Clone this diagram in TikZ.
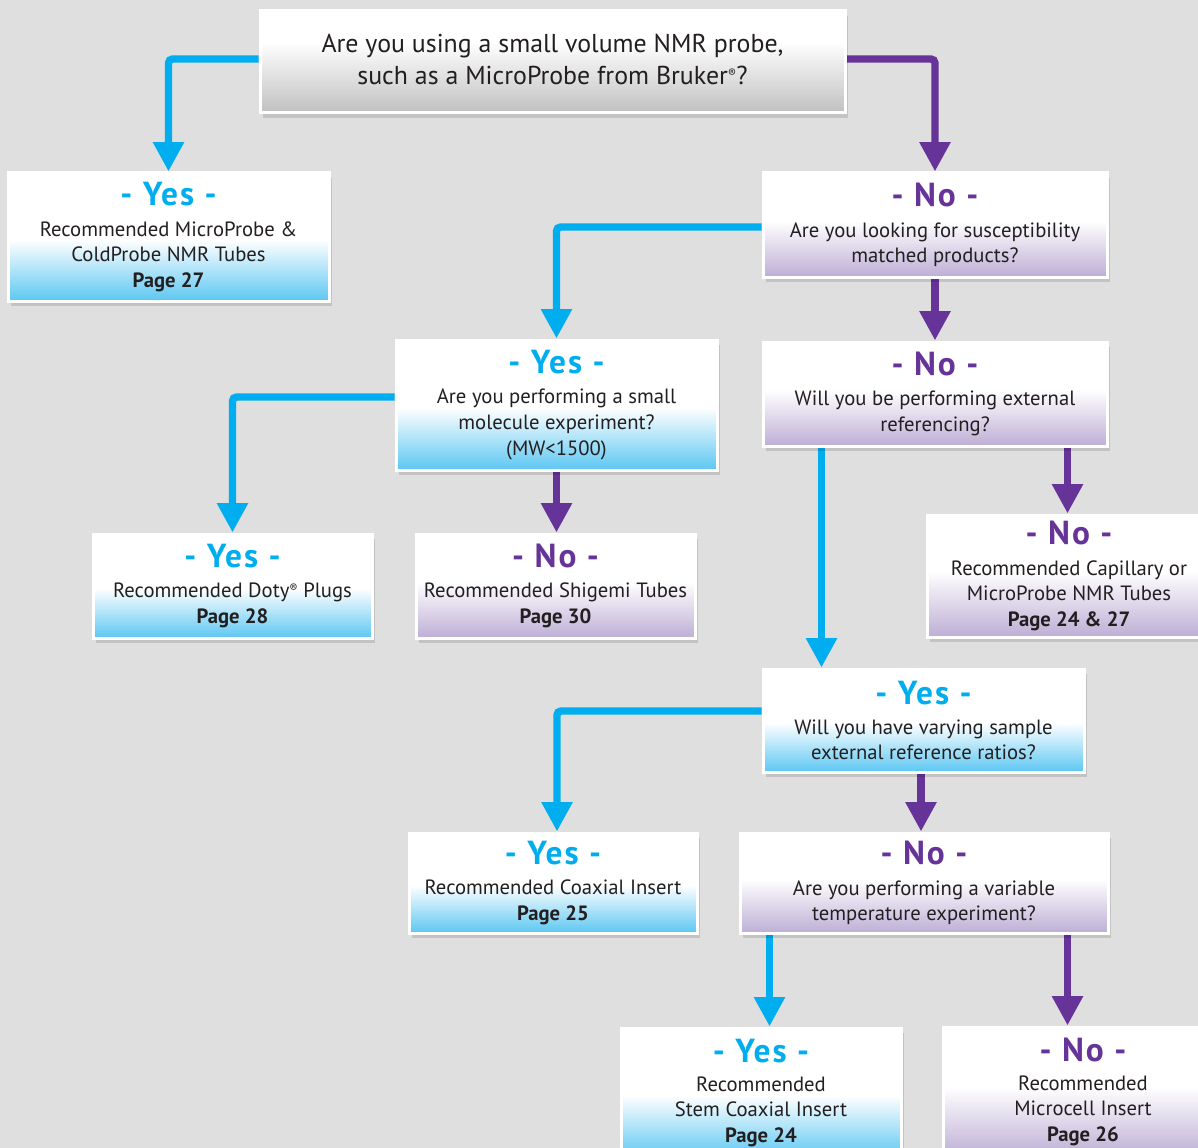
\documentclass[tikz,border=0pt]{standalone}
\usepackage{fontspec}
\setmainfont{PT Sans}
\usetikzlibrary{arrows.meta,shadows,calc}
\definecolor{bgc}{HTML}{DFDFDF}
\definecolor{yesc}{HTML}{00AEEF}
\definecolor{noc}{HTML}{663399}
\definecolor{yesbot}{HTML}{5CC7F2}
\definecolor{nobot}{HTML}{BDAED5}
\definecolor{topbot}{HTML}{C0C0C0}
\definecolor{txt}{HTML}{231F20}
\pgfdeclareverticalshading{yesshade}{100bp}{color(0bp)=(yesbot); color(25bp)=(yesbot); color(49bp)=(white); color(100bp)=(white)}
\pgfdeclareverticalshading{noshade}{100bp}{color(0bp)=(nobot); color(25bp)=(nobot); color(52bp)=(white); color(100bp)=(white)}
\pgfdeclareverticalshading{topshade}{100bp}{color(0bp)=(topbot); color(25bp)=(topbot); color(60bp)=(white); color(100bp)=(white)}
\pgfdeclarelayer{bg}
\pgfsetlayers{bg,main}
\newcommand{\YesHd}{{\fontsize{25}{26}\selectfont\bfseries\addfontfeature{LetterSpace=6}\color{yesc}- Yes -}}
\newcommand{\NoHd}{{\fontsize{25}{26}\selectfont\bfseries\addfontfeature{LetterSpace=6}\color{noc}- No -}}
\newcommand{\RegMk}{\raisebox{0.55ex}{\fontsize{9}{9}\selectfont ®}}
\tikzset{
  box/.style={draw=white, line width=2.25pt, align=center, inner sep=0pt,
    drop shadow={shadow xshift=2.5pt, shadow yshift=-3.5pt, opacity=0.12, fill=black},
    font=\fontsize{15.5}{19.2}\selectfont, text=txt},
  sz/.style 2 args={minimum width=#1*0.75pt, minimum height=#2*0.75pt},
  yesbox/.style={box, shading=yesshade},
  nobox/.style={box, shading=noshade},
  topbox/.style={box, shading=topshade, font=\fontsize{19.4}{24}\selectfont},
  arr/.style={line width=5.5pt, rounded corners=3pt, -{Triangle[length=22pt,width=22pt]}},
  yarr/.style={arr, draw=yesc},
  narr/.style={arr, draw=noc}
}
\begin{document}
\begin{tikzpicture}[x=0.75pt,y=-0.75pt]
\useasboundingbox (0,0) rectangle (1198,1148);
\clip (0,0) rectangle (1198,1148);
\begin{pgfonlayer}{bg}
\fill[bgc] (0,0) rectangle (1198,1148);
\end{pgfonlayer}

\node[topbox, sz={585}{102}] (top) at (552.5,62)
  {\raisebox{4pt}{\shortstack{Are you using a small volume NMR probe,\\[3.5pt] such as a MicroProbe from Bruker\RegMk?}}};

\node[yesbox, sz={321}{128}] (yes1) at (168.5,237)
  {\YesHd\\[3.5pt] Recommended MicroProbe \&\\ ColdProbe NMR Tubes\\ \textbf{Page 27}};
\node[nobox, sz={344}{104}] (no1) at (935,225)
  {\NoHd\\[3.5pt] Are you looking for susceptibility\\ matched products?};

\node[yesbox, sz={321}{130}] (yes2) at (556.5,405)
  {\YesHd\\[3.5pt] Are you performing a small\\ molecule experiment?\\ {\fontsize{15.5}{19.2}\selectfont (MW<1500)}};
\node[nobox, sz={344}{104}] (no2) at (935,394)
  {\NoHd\\[3.5pt] Will you be performing external\\ referencing?};

\node[yesbox, sz={279}{104}] (yes3) at (232.5,586)
  {\YesHd\\[3.5pt] Recommended Doty\RegMk{} Plugs\\ \textbf{Page 28}};
\node[nobox, sz={279}{104}] (no3) at (555.5,586)
  {\NoHd\\[3.5pt] Recommended Shigemi Tubes\\ \textbf{Page 30}};
\node[nobox, sz={284}{122}] (no4) at (1069,576)
  {\NoHd\\[3.5pt] Recommended Capillary or\\ MicroProbe NMR Tubes\\ \textbf{Page 24 \& 27}};

\node[yesbox, sz={321}{103}] (yes4) at (923.5,720.5)
  {\YesHd\\[3.5pt] Will you have varying sample\\ external reference ratios?};

\node[yesbox, sz={288}{100}] (yes5) at (553,883)
  {\YesHd\\[3.5pt] Recommended Coaxial Insert\\ \textbf{Page 25}};
\node[nobox, sz={368}{100}] (no5) at (924,883)
  {\NoHd\\[3.5pt] Are you performing a variable\\ temperature experiment?};

\node[yesbox, sz={280}{130}] (yes6) at (761,1093)
  {\YesHd\\[2pt] Recommended\\ Stem Coaxial Insert\\ \textbf{Page 24}};
\node[nobox, sz={280}{130}] (no6) at (1083,1092)
  {\NoHd\\[2pt] Recommended\\ Microcell Insert\\ \textbf{Page 26}};

\begin{pgfonlayer}{bg}
\draw[yarr] ($(top.west)+(0,-3)$) -| (yes1.north);
\draw[narr] ($(top.east)+(0,-3)$) -| (no1.north);
\draw[yarr] ($(no1.west)+(0,2)$) -| (yes2.north);
\draw[narr] (no1.south) -- (no2.north);
\draw[yarr] ($(yes2.west)+(0,-8)$) -| (yes3.north);
\draw[narr] (yes2.south) -- (yes2.south |- no3.north);
\coordinate (b1) at ($(no2.south west)+(60,0)$);
\coordinate (b2) at ($(no2.south west)+(306,0)$);
\draw[yarr] (b1) -- (b1 |- yes4.north);
\draw[narr] (b2) -- (b2 |- no4.north);
\draw[yarr] ($(yes4.west)+(0,-9.5)$) -| ($(yes5.north)+(4,0)$);
\draw[narr] ($(yes4.south)+(-2.5,0)$) -- ($(yes4.south |- no5.north)+(-2.5,0)$);
\coordinate (b3) at ($(no5.south west)+(31,0)$);
\coordinate (b4) at ($(no5.south west)+(329,0)$);
\draw[yarr] (b3) -- (b3 |- yes6.north);
\draw[narr] (b4) -- (b4 |- no6.north);
\end{pgfonlayer}
\end{tikzpicture}
\end{document}
